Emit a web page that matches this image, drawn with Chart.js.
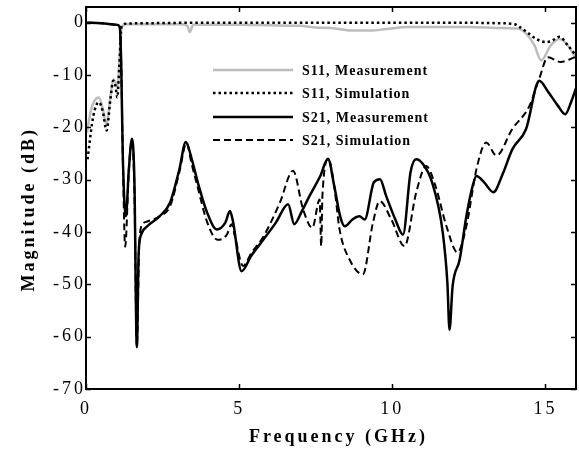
<!DOCTYPE html>
<html>
<head>
<meta charset="utf-8">
<script src="https://cdn.jsdelivr.net/npm/chart.js@4.4.1/dist/chart.umd.min.js"></script>
<style>
html, body { margin: 0; padding: 0; background: #fff; }
</style>
</head>
<body>
<canvas id="chart" width="579" height="454"></canvas>
<script>
// axis ticks and legend text
const freqTicks = [0, 5, 10, 15];
const dbTicks = [-70, -60, -50, -40, -30, -20, -10, 0];
const legendLabels = ["S11, Measurement", "S11, Simulation", "S21, Measurement", "S21, Simulation"];

// S11 measurement (grey)
const s11MeasFreq = [0.03, 0.15, 0.27, 0.42, 0.55, 0.67, 0.8, 0.89, 0.97, 1.03, 1.1, 1.16, 1.3, 2.0, 3.0, 3.3, 3.39, 3.5, 4, 5, 6, 7, 7.5, 8.0, 8.7, 9.3, 9.8, 10.5, 11.5, 12.5, 13.5, 14.0, 14.26, 14.64, 14.86, 15.18, 15.46, 15.73, 16];
const s11MeasDb = [-21, -17, -15, -14.3, -16.5, -19.5, -14, -10.8, -11.5, -12.5, -6, -1.1, -0.3, -0.3, -0.3, -0.5, -1.8, -0.4, -0.4, -0.4, -0.5, -0.6, -0.9, -1.0, -1.5, -1.5, -1.2, -0.8, -0.8, -0.8, -1.0, -1.1, -1.5, -4.3, -7.2, -4.3, -3.1, -4.3, -6.9];

// S11 simulation (dotted)
const s11SimFreq = [0.05, 0.24, 0.42, 0.55, 0.67, 0.8, 0.89, 0.96, 1.02, 1.09, 1.16, 1.3, 2, 4, 6, 8, 10, 12, 13.5, 14.0, 14.15, 14.4, 14.7, 15.02, 15.2, 15.46, 15.73, 16];
const s11SimDb = [-26.1, -17.8, -15.2, -17, -20.6, -14.5, -11.1, -12, -14.3, -8.2, -0.8, -0.2, -0.1, 0, 0, 0, 0, 0, -0.1, -0.3, -0.8, -1.8, -3.1, -3.7, -3.5, -2.7, -4.3, -6.3];

// S21 measurement (solid)
const s21MeasFreq = [0, 0.5, 1.0, 1.1, 1.15, 1.2, 1.3, 1.4, 1.5, 1.58, 1.66, 1.72, 1.8, 2.0, 2.4, 2.75, 3.05, 3.26, 3.45, 3.65, 3.95, 4.27, 4.55, 4.7, 4.8, 5.08, 5.4, 5.8, 6.2, 6.6, 6.8, 7.05, 7.3, 7.65, 7.9, 8.1, 8.3, 8.45, 8.7, 8.93, 9.1, 9.4, 9.6, 9.8, 10.1, 10.35, 10.6, 10.78, 11.0, 11.3, 11.65, 11.8, 11.87, 11.97, 12.2, 12.42, 12.62, 12.75, 13.0, 13.3, 13.6, 13.92, 14.37, 14.8, 15.1, 15.4, 15.65, 15.85, 16];
const s21MeasDb = [0, -0.1, -0.4, -0.8, -8, -25, -37, -28, -22.2, -30, -62, -44, -40.5, -38.9, -37, -34.3, -28, -22.8, -26, -30.5, -36.2, -39.5, -38.2, -36, -38, -47.5, -44.5, -41.4, -38.2, -34.7, -38.5, -36, -33.1, -29.3, -26, -31, -37, -38.9, -37.6, -37, -37.6, -30.5, -29.9, -33.1, -37.6, -40.5, -28.5, -26.1, -27, -30.5, -40.1, -49.7, -58.7, -50.4, -45.3, -37, -31.3, -29.3, -30.5, -32.4, -29, -24.2, -20.3, -11.1, -13.3, -15.8, -17.5, -15, -12.5];

// S21 simulation (dashed)
const s21SimFreq = [0, 0.5, 1.0, 1.1, 1.15, 1.2, 1.28, 1.4, 1.5, 1.58, 1.66, 1.74, 1.85, 2.0, 2.4, 2.75, 3.05, 3.28, 3.45, 3.65, 3.95, 4.3, 4.6, 4.75, 4.85, 5.13, 5.4, 5.8, 6.33, 6.76, 7.09, 7.39, 7.63, 7.68, 7.72, 7.92, 8.1, 8.28, 8.61, 9.04, 9.37, 9.59, 9.97, 10.4, 10.78, 11.11, 11.4, 11.77, 12.13, 12.42, 12.75, 13.07, 13.4, 13.92, 14.48, 14.8, 15.08, 15.5, 15.84, 16];
const s21SimDb = [0, -0.1, -0.4, -0.8, -8, -25, -42.8, -28, -22.5, -32, -62, -42, -38.5, -38, -37, -35, -28.5, -23, -27, -31.5, -38, -41.5, -40.5, -38.5, -40.5, -46.5, -44, -40.8, -34.4, -28.3, -35.7, -39.2, -33.8, -42.7, -33, -26.1, -31, -39.5, -45.3, -48.1, -38.2, -34.1, -37.6, -42.7, -32.5, -27.4, -31, -38.9, -43.9, -38.9, -28, -22.9, -25.4, -20.3, -15.9, -10.7, -6.6, -7.5, -6.9, -6.5];

const pts = (fs, ds) => fs.map((f, i) => ({ x: f, y: ds[i] }));

const serif = '"Liberation Serif", "Times New Roman", serif';

// black frame, inward ticks on all four sides, legend inside the plot
const framePlugin = {
  id: 'frame',
  beforeUpdate(chart) { chart.ctx.letterSpacing = '3px'; },
  beforeDraw(chart) { chart.ctx.letterSpacing = '3px'; },
  afterDraw(chart) {
    const ctx = chart.ctx;
    const a = chart.chartArea;
    const xs = chart.scales.x, ys = chart.scales.y;
    ctx.save();
    ctx.strokeStyle = '#000';
    ctx.lineWidth = 1.5;
    ctx.beginPath();
    freqTicks.forEach(v => {
      const px = Math.round(xs.getPixelForValue(v)) + 0.5;
      ctx.moveTo(px, a.bottom); ctx.lineTo(px, a.bottom - 5);
      ctx.moveTo(px, a.top); ctx.lineTo(px, a.top + 5);
    });
    dbTicks.forEach(v => {
      const py = Math.round(ys.getPixelForValue(v)) + 0.5;
      ctx.moveTo(a.left, py); ctx.lineTo(a.left + 5, py);
      ctx.moveTo(a.right, py); ctx.lineTo(a.right - 5, py);
    });
    ctx.stroke();
    ctx.lineWidth = 2;
    ctx.strokeRect(a.left, a.top, a.right - a.left, a.bottom - a.top);

    // legend
    const lx0 = 213, lx1 = 293, tx = 302;
    const rows = [70, 93, 117, 140];
    ctx.letterSpacing = '1px';
    ctx.font = 'bold 14px ' + serif;
    ctx.textBaseline = 'middle';
    ctx.fillStyle = '#000';
    chart.data.datasets.forEach((ds, i) => {
      ctx.strokeStyle = ds.borderColor;
      ctx.lineWidth = ds.borderWidth;
      ctx.setLineDash(ds.borderDash || []);
      ctx.beginPath();
      ctx.moveTo(lx0, rows[i]); ctx.lineTo(lx1, rows[i]);
      ctx.stroke();
      ctx.fillText(legendLabels[i], tx, rows[i] + 1);
    });
    ctx.restore();
  }
};

new Chart(document.getElementById('chart'), {
  type: 'line',
  data: {
    datasets: [
      { label: legendLabels[0], data: pts(s11MeasFreq, s11MeasDb), borderColor: '#bdbdbd', borderWidth: 2.5, order: 4 },
      { label: legendLabels[1], data: pts(s11SimFreq, s11SimDb), borderColor: '#000', borderWidth: 2.5, borderDash: [2.5, 3], order: 3 },
      { label: legendLabels[2], data: pts(s21MeasFreq, s21MeasDb), borderColor: '#000', borderWidth: 2.5, order: 2 },
      { label: legendLabels[3], data: pts(s21SimFreq, s21SimDb), borderColor: '#000', borderWidth: 2, borderDash: [7, 4], order: 1 }
    ]
  },
  options: {
    responsive: false,
    animation: false,
    devicePixelRatio: 1,
    layout: { padding: { top: 7, right: 3, left: 0, bottom: 0 } },
    elements: {
      point: { radius: 0 },
      line: { cubicInterpolationMode: 'monotone', fill: false }
    },
    plugins: { legend: { display: false }, tooltip: { enabled: false } },
    scales: {
      x: {
        type: 'linear', min: 0, max: 16,
        afterBuildTicks: s => { s.ticks = freqTicks.map(v => ({ value: v })); },
        afterFit: s => { s.height = 65; s.paddingLeft = 0; s.paddingRight = 0; },
        grid: { display: false, drawTicks: false },
        border: { display: false },
        ticks: { color: '#000', padding: 9, font: { family: serif, size: 18 } },
        title: { display: true, text: '  Frequency (GHz)', color: '#000', padding: { top: 0, bottom: 6 }, font: { family: serif, size: 18, weight: 'bold' } }
      },
      y: {
        type: 'linear', min: -70, max: 3,
        afterBuildTicks: s => { s.ticks = dbTicks.map(v => ({ value: v })); },
        afterFit: s => { s.width = 86; s.paddingTop = 0; s.paddingBottom = 0; },
        grid: { display: false, drawTicks: false },
        border: { display: false },
        ticks: { color: '#000', padding: 0, font: { family: serif, size: 18 } },
        title: { display: true, text: 'Magnitude (dB)   ', color: '#000', padding: { top: 19, bottom: 0 }, font: { family: serif, size: 18, weight: 'bold' } }
      }
    }
  },
  plugins: [framePlugin]
});
</script>
</body>
</html>
